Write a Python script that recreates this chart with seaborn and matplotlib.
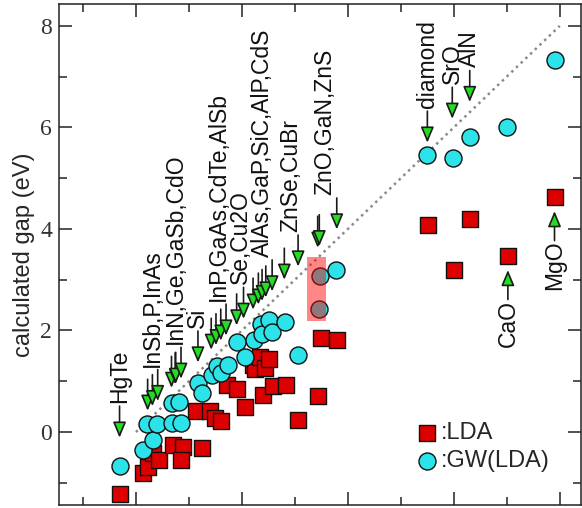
import numpy as np
import matplotlib
matplotlib.use("Agg")
import matplotlib.pyplot as plt
from matplotlib.patches import Rectangle
from matplotlib.ticker import MultipleLocator, NullFormatter
import seaborn as sns

# ---------------- data ----------------
lda_x = [-0.31, 0.14, 0.23, 0.33, 0.43, 0.70, 0.88, 0.85, 1.25, 1.14, 1.40, 1.50, 1.60,
         1.71, 1.91, 2.06, 2.21, 2.25, 2.34, 2.43, 2.52, 2.40, 2.59, 2.83, 3.05, 3.50,
         3.79, 3.44, 5.52, 6.00, 6.30, 7.02, 7.90]
lda_y = [-1.23, -0.81, -0.68, -0.42, -0.56, -0.26, -0.30, -0.56, -0.32, 0.41, 0.41, 0.28, 0.21,
         0.92, 0.84, 0.50, 1.32, 1.25, 1.48, 1.27, 1.43, 0.73, 0.91, 0.93, 0.24, 1.86,
         1.82, 0.71, 4.07, 3.19, 4.19, 3.46, 4.62]

gw_x = [-0.31, 0.14, 0.33, 0.20, 0.40, 0.68, 0.85, 0.68, 0.81, 1.17, 1.24, 1.43, 1.52,
        1.60, 1.74, 1.90, 2.05, 2.22, 2.36, 2.37, 2.52, 2.56, 2.81, 3.06, 3.47, 3.46,
        3.77, 5.50, 5.99, 6.31, 7.00, 7.90]
gw_y = [-0.67, -0.35, -0.15, 0.15, 0.16, 0.17, 0.17, 0.58, 0.59, 0.96, 0.77, 1.13, 1.30,
        1.16, 1.32, 1.77, 1.48, 1.82, 2.12, 1.94, 2.21, 1.98, 2.17, 1.52, 3.07, 2.42,
        3.19, 5.45, 5.39, 5.81, 6.01, 7.32]

group_labels = ["HgTe", "InSb,P,InAs", "InN,Ge,GaSb,CdO", "Si", "InP,GaAs,CdTe,AlSb",
                "Se,Cu2O", "AlAs,GaP,SiC,AlP,CdS", "ZnSe,CuBr", "ZnO,GaN,ZnS",
                "diamond", "SrO", "AlN"]
group_arrow_x = [[-0.31], [0.22, 0.31, 0.41], [0.67, 0.74, 0.75, 0.85], [1.17],
                 [1.42, 1.51, 1.60, 1.70], [1.90, 2.03], [2.21, 2.31, 2.38, 2.45, 2.57],
                 [2.80, 3.06], [3.43, 3.46, 3.79], [5.50], [5.97], [6.30]]

up_labels = ["CaO", "MgO"]
up_x = [7.02, 7.90]
up_lda_y = [3.46, 4.62]

highlight_x = [3.23, 3.58]
highlight_y = [2.19, 3.45]

# ---------------- style ----------------
sns.set_style("ticks")
plt.rcParams['font.family'] = ['Liberation Sans', 'DejaVu Sans']

fig = plt.figure(figsize=(5.82, 5.08), dpi=100)
ax = fig.add_axes([59 / 582, 3 / 508, 522 / 582, 501 / 508])

red = "#DD0000"
cyan = "#2BE3E8"
green = "#22DD22"

# diagonal
sns.lineplot(x=[0, 8], y=[0, 8], ax=ax, color="#8a8a8a", lw=1.8,
             linestyle=(0, (1, 1.6)), zorder=1)

sns.scatterplot(x=lda_x, y=lda_y, ax=ax, marker="s", s=135, color=red,
                edgecolor="#111111", linewidth=1.0, label=":LDA", zorder=3)
sns.scatterplot(x=gw_x, y=gw_y, ax=ax, marker="o", s=150, color=cyan,
                edgecolor="#111111", linewidth=1.0, label=":GW(LDA)", zorder=4)

# highlight rectangle
ax.add_patch(Rectangle((highlight_x[0], highlight_y[0]),
                       highlight_x[1] - highlight_x[0], highlight_y[1] - highlight_y[0],
                       facecolor="red", alpha=0.47, lw=0, zorder=6))

arrow_kw = dict(arrowstyle="-|>,head_length=0.95,head_width=0.4", mutation_scale=10,
                fc=green, ec="#1a1a1a", lw=1.2, shrinkA=0, shrinkB=0)
tip_off = 0.2
alen = 0.62
lab_fs = 16.5
for lab, xs in zip(group_labels, group_arrow_x):
    for x in xs:
        ax.annotate("", xy=(x, x + tip_off), xytext=(x, x + tip_off + alen),
                    arrowprops=arrow_kw, zorder=7)
    ax.text(np.mean(xs), max(xs) + tip_off + alen + 0.06, lab, rotation=90,
            ha="center", va="bottom", fontsize=lab_fs, color="#111111")

for lab, x, yl in zip(up_labels, up_x, up_lda_y):
    tip = yl - 0.27
    ax.annotate("", xy=(x, tip), xytext=(x, tip - 0.58),
                arrowprops=arrow_kw, zorder=7)
    ax.text(x, tip - 0.58, lab, rotation=90, ha="center", va="top",
            fontsize=lab_fs, color="#111111")

ax.set_xlim(-1.453, 8.40)
ax.set_ylim(-1.437, 8.43)

ax.xaxis.set_major_locator(MultipleLocator(2))
ax.xaxis.set_minor_locator(MultipleLocator(1))
ax.yaxis.set_major_locator(MultipleLocator(2))
ax.yaxis.set_minor_locator(MultipleLocator(1))
ax.xaxis.set_major_formatter(NullFormatter())
ax.tick_params(which="both", direction="in", top=True, right=True, color="#222222",
               width=1.1)
ax.tick_params(which="major", length=9.5, pad=5)
ax.tick_params(which="minor", length=6)
ax.tick_params(axis="y", labelsize=17, labelcolor="#333333",
               labelfontfamily="Liberation Serif")
for sp in ax.spines.values():
    sp.set_linewidth(1.1)
    sp.set_color("#222222")

ax.set_ylabel("calculated gap (eV)", fontsize=17, labelpad=4)
ax.set_xlabel("")

leg = ax.legend(loc="center left", bbox_to_anchor=(0.687, 0.116), frameon=False,
                fontsize=17, handlelength=0.8, handletextpad=0.2, labelspacing=0.25,
                borderpad=0, borderaxespad=0)

fig.savefig("out.png", dpi=100)
